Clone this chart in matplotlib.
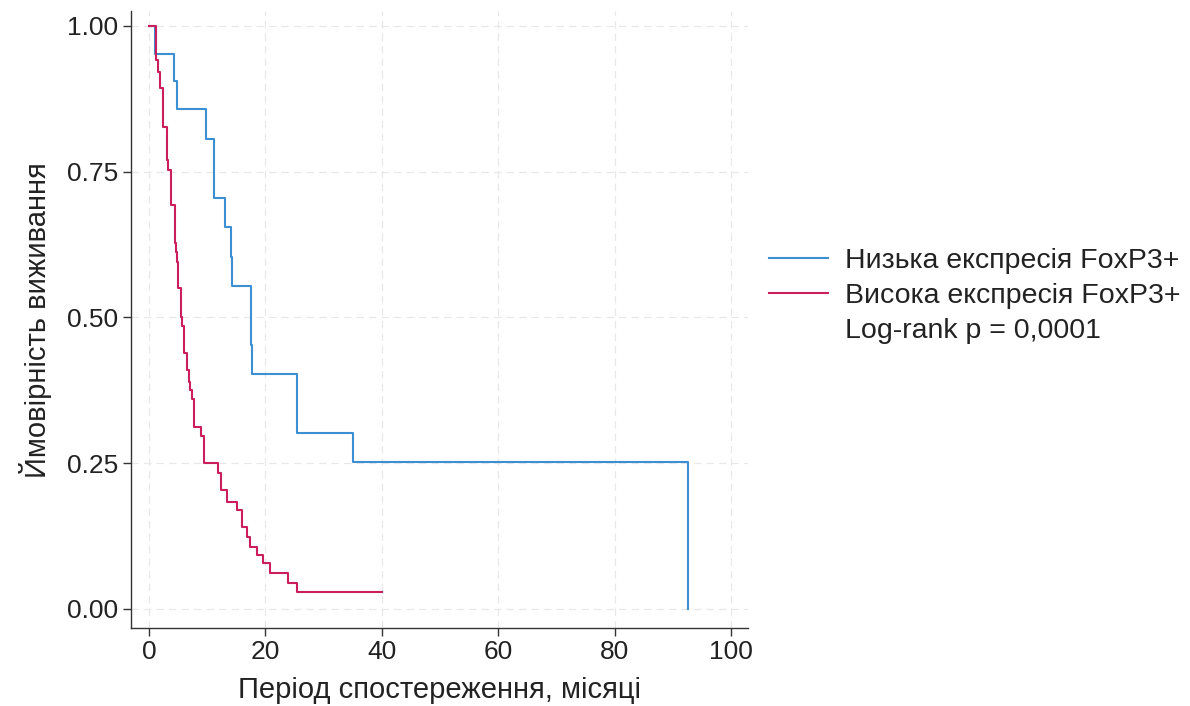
import matplotlib
matplotlib.use("Agg")
import matplotlib.pyplot as plt
from matplotlib.lines import Line2D

plt.rcParams['font.family'] = ['Liberation Sans', 'DejaVu Sans']

# Kaplan-Meier step estimates (time in months, survival after each step)
low_times = [0.0, 1.0, 4.3, 4.8, 9.8, 11.2, 13.1, 14.1, 14.3, 17.5, 17.6, 25.4, 35.1, 92.6]
low_surv = [1.0, 0.952, 0.905, 0.857, 0.806, 0.705, 0.655, 0.604, 0.554, 0.453, 0.403, 0.302, 0.252, 0.0]

high_times = [0.0, 1.2, 1.55, 1.9, 2.4, 3.1, 3.3, 3.8, 4.5, 4.6, 4.8, 5.0, 5.5, 5.7, 6.0,
              6.5, 6.9, 7.0, 7.4, 7.7, 8.9, 9.5, 11.9, 12.4, 13.4, 15.1, 16.0, 16.8, 17.4,
              18.6, 19.6, 20.8, 23.9, 25.4, 40.0]
high_surv = [1.0, 0.942, 0.921, 0.894, 0.827, 0.770, 0.753, 0.693, 0.628, 0.612, 0.595, 0.551,
             0.501, 0.485, 0.439, 0.410, 0.389, 0.376, 0.360, 0.312, 0.297, 0.250, 0.233,
             0.204, 0.184, 0.170, 0.141, 0.123, 0.106, 0.093, 0.079, 0.062, 0.045, 0.029, 0.029]

x_ticks = [0, 20, 40, 60, 80, 100]
y_ticks = [0.0, 0.25, 0.50, 0.75, 1.00]
y_tick_labels = ["0.00", "0.25", "0.50", "0.75", "1.00"]

series_labels = ["Низька експресія FoxP3+", "Висока експресія FoxP3+"]
test_label = "Log-rank p = 0,0001"
x_title = "Період спостереження, місяці"
y_title = "Ймовірність виживання"

blue = "#3b8fd2"
red = "#cc1d5c"

fig = plt.figure(figsize=(11.9, 7.06), dpi=100)
ax = fig.add_axes([0.1101, 0.1105, 0.5185, 0.8734])

ax.step(low_times, low_surv, where="post", color=blue, lw=1.5)
ax.step(high_times, high_surv, where="post", color=red, lw=1.5)

ax.set_xlim(-3.1, 102.9)
ax.set_ylim(-0.0326, 1.025)
ax.set_xticks(x_ticks)
ax.set_yticks(y_ticks)
ax.set_yticklabels(y_tick_labels)

ax.grid(True, color="#e8e8e8", linestyle=(0, (6, 4)), lw=0.9)
ax.set_axisbelow(True)
for side in ("top", "right"):
    ax.spines[side].set_visible(False)
for side in ("left", "bottom"):
    ax.spines[side].set_color("#333333")
    ax.spines[side].set_linewidth(1.0)

ax.tick_params(axis="both", direction="out", length=6, width=1.0, color="#333333",
               labelsize=19, labelcolor="#222222", pad=3)

ax.set_xlabel(x_title, fontsize=21, color="#222222", labelpad=8)
ax.set_ylabel(y_title, fontsize=21, color="#222222", labelpad=11)

handles = [Line2D([], [], color=blue, lw=1.5),
           Line2D([], [], color=red, lw=1.5),
           Line2D([], [], color="none", lw=0)]
leg = fig.legend(handles, series_labels + [test_label], loc="center left",
                 bbox_to_anchor=(0.625, 0.581), frameon=False, fontsize=20.5,
                 handlelength=2.05, handletextpad=0.6, labelspacing=0.32,
                 labelcolor="#222222")

fig.savefig("out.png", dpi=100, facecolor="white")
